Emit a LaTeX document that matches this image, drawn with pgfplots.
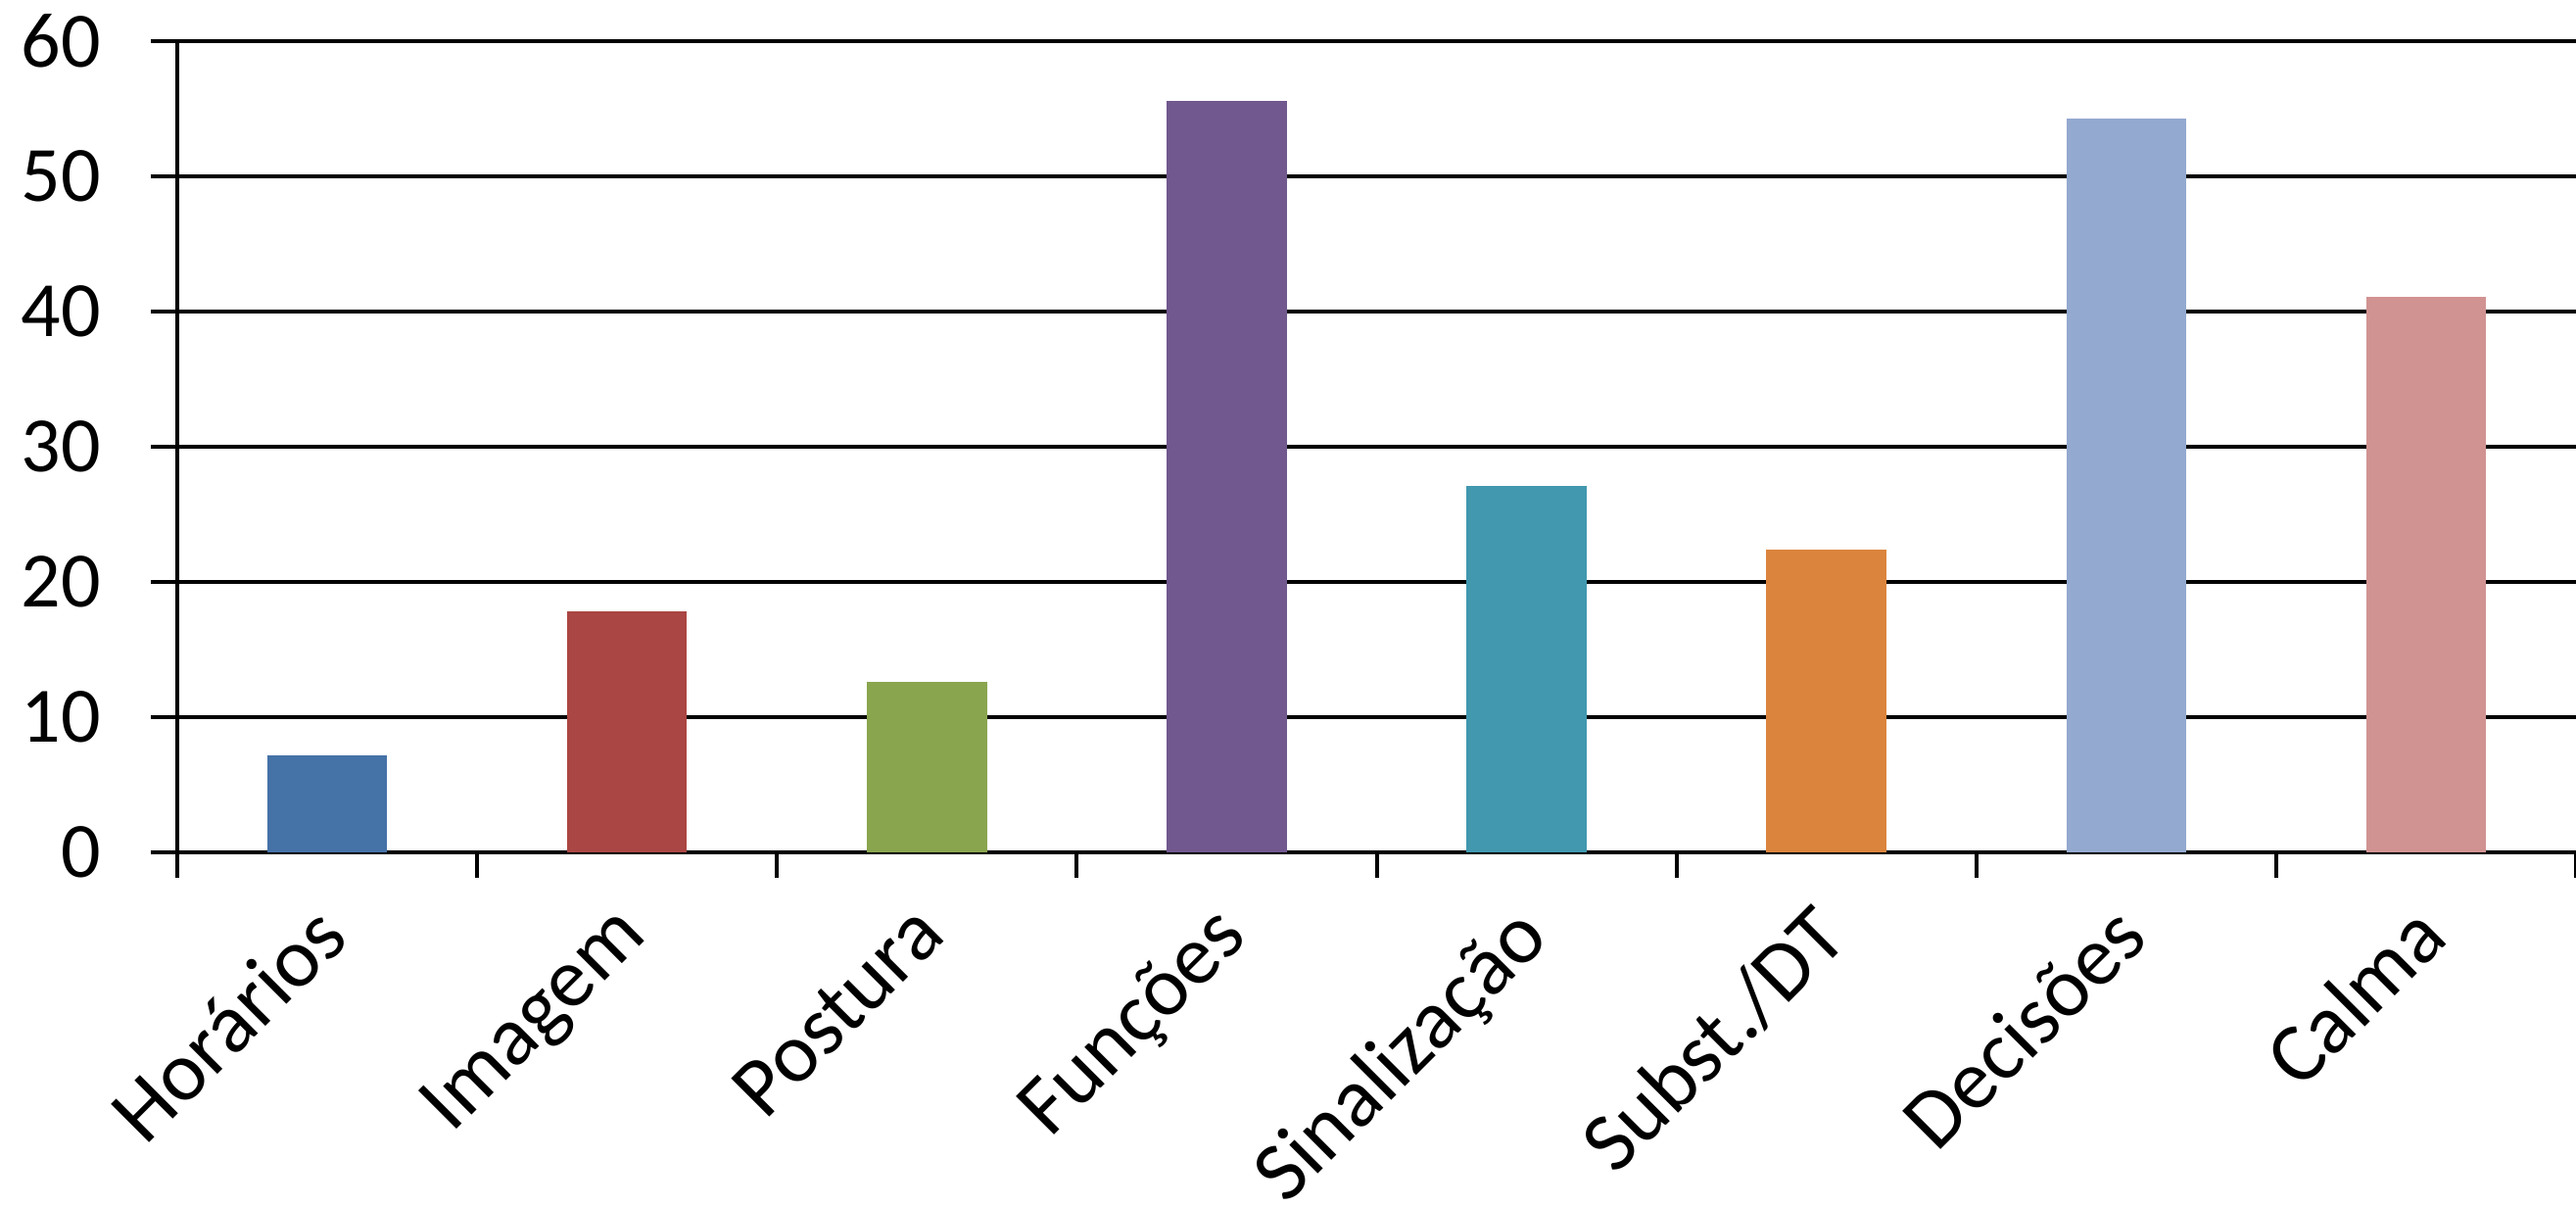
\documentclass[border=0pt]{standalone}
\usepackage{fontspec}
\setmainfont{Carlito}
\usepackage{pgfplots}
\pgfplotsset{compat=1.18}
\definecolor{c1}{HTML}{4572A7}
\definecolor{c2}{HTML}{AA4643}
\definecolor{c3}{HTML}{89A54E}
\definecolor{c4}{HTML}{71588F}
\definecolor{c5}{HTML}{4198AF}
\definecolor{c6}{HTML}{DB843D}
\definecolor{c7}{HTML}{93A9CF}
\definecolor{c8}{HTML}{D19392}
\begin{document}
\begin{tikzpicture}
\begin{axis}[
  scale only axis, width=489.8pt, height=165.6pt,
  xmin=0.5, xmax=8.5, ymin=0, ymax=60,
  ytick={0,10,...,60},
  xtick={1,...,8},
  xticklabels={Horários, Imagem, Postura, Funções, Sinalização, Subst./DT, Decisões, Calma},
  minor xtick={0.5,1.5,...,8.5},
  axis x line=bottom, axis y line=left,
  axis line style={black, line width=0.8pt, -},
  ymajorgrids, major grid style={black, line width=0.8pt},
  tick style={black, line width=0.8pt},
  tick align=outside,
  major tick length=5.4pt, minor tick length=5.2pt,
  major x tick style={draw=none},
  /pgf/number format/assume math mode=true,
  yticklabel style={font=\fontsize{16}{19}\selectfont, inner sep=0pt, anchor=east, xshift=-10pt},
  xticklabel style={font=\fontsize{17.2}{21}\selectfont, xshift=-3.5pt, yshift=-4pt, rotate=45, anchor=north east, inner sep=0pt},
]
\addplot[ybar, bar width=0.4, bar shift=0pt, fill=c1, draw=none] coordinates {(1,7.2)};
\addplot[ybar, bar width=0.4, bar shift=0pt, fill=c2, draw=none] coordinates {(2,17.8)};
\addplot[ybar, bar width=0.4, bar shift=0pt, fill=c3, draw=none] coordinates {(3,12.6)};
\addplot[ybar, bar width=0.4, bar shift=0pt, fill=c4, draw=none] coordinates {(4,55.6)};
\addplot[ybar, bar width=0.4, bar shift=0pt, fill=c5, draw=none] coordinates {(5,27.1)};
\addplot[ybar, bar width=0.4, bar shift=0pt, fill=c6, draw=none] coordinates {(6,22.4)};
\addplot[ybar, bar width=0.4, bar shift=0pt, fill=c7, draw=none] coordinates {(7,54.3)};
\addplot[ybar, bar width=0.4, bar shift=0pt, fill=c8, draw=none] coordinates {(8,41.1)};
\end{axis}
\pgfresetboundingbox
\path ([xshift=-36.2pt,yshift=-72.4pt]current axis.south west) rectangle ([yshift=8.4pt]current axis.north east);
\end{tikzpicture}
\end{document}
